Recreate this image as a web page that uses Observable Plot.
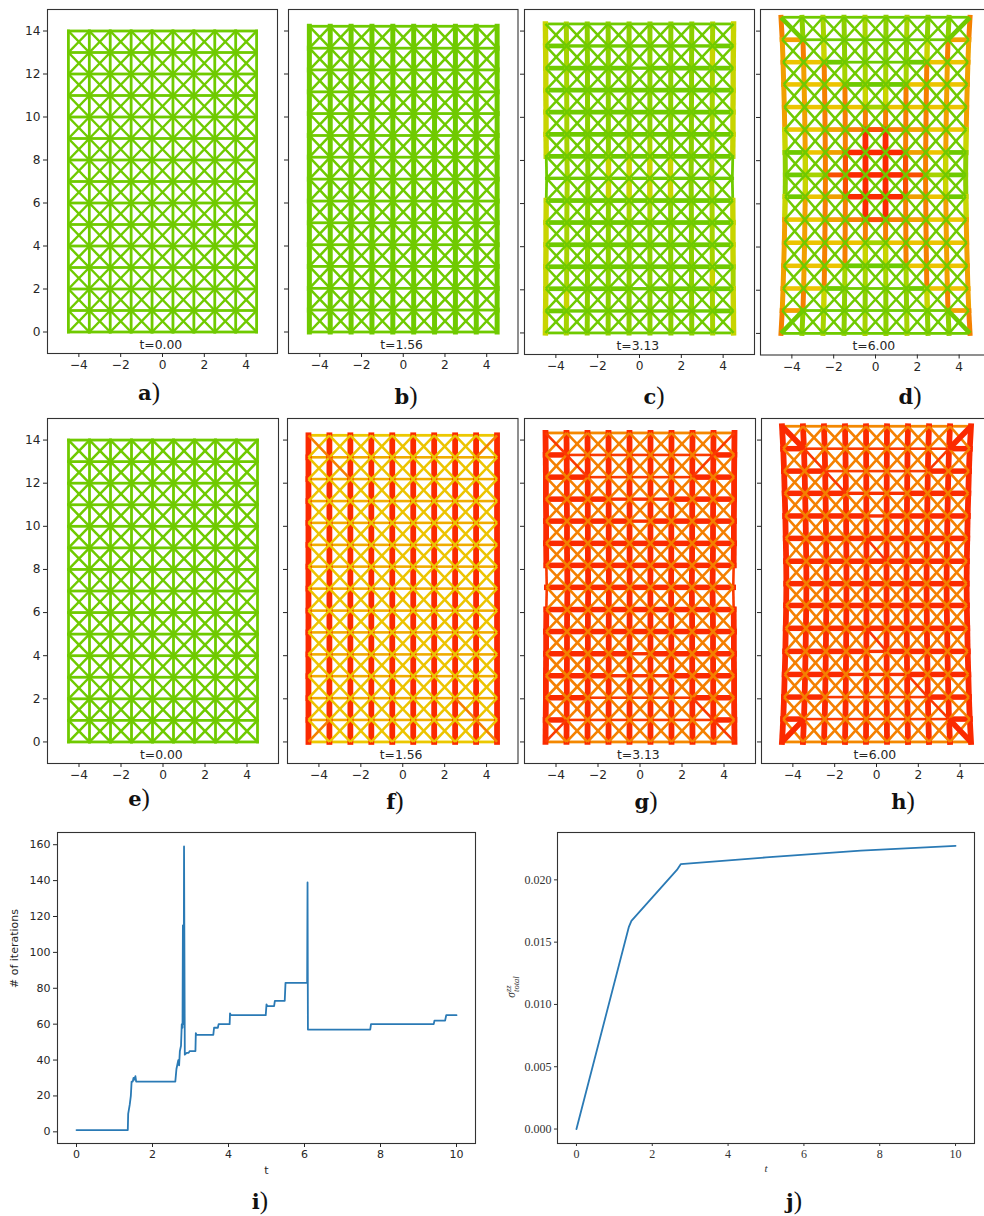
<!DOCTYPE html>
<html>
<head>
<meta charset="utf-8">
<script src="https://cdn.jsdelivr.net/npm/d3@7"></script>
<script src="https://cdn.jsdelivr.net/npm/@observablehq/plot@0.6"></script>
<style>
html,body{margin:0;padding:0;background:#fff;}
#page{position:relative;width:984px;height:1216px;overflow:hidden;background:#fff;}
#page svg{position:absolute;max-width:none;}
.cap{position:absolute;transform:translate(-50%,-50%);white-space:nowrap;color:#111;line-height:1;}
.cap b{font:bold 21px "DejaVu Serif",serif;}
.cap span{font:25px "Liberation Serif",serif;font-weight:normal;}
#sig{position:absolute;left:512px;top:987px;transform:translate(-50%,-50%) rotate(-90deg);white-space:nowrap;font:italic 11.5px "Liberation Serif",serif;color:#333;line-height:1;}
#sig .st{display:inline-block;vertical-align:middle;font-size:8.5px;line-height:7.5px;text-align:left;}
</style>
</head>
<body>
<div id="page"></div>
<script>
// ---------- truss node positions ----------
const colsX = [-4.5,-3.5,-2.5,-1.5,-0.5,0.5,1.5,2.5,3.5,4.5];
const rows0 = [0,1,2,3,4,5,6,7,8,9,10,11,12,13,14];
const rows1 = [0,1.02,2.03,3.05,4.06,5.08,6.09,7.11,8.13,9.14,10.16,11.17,12.19,13.2,14.22];
const rows2 = [0,1.02,2.05,3.07,4.09,5.12,6.14,7.17,8.19,9.21,10.24,11.26,12.28,13.31,14.33];
const rows3 = [0,1.06,2.08,3.13,4.2,5.27,6.33,7.34,8.38,9.44,10.48,11.53,12.56,13.6,14.64];
const half0 = [4.5,4.5,4.5,4.5,4.5,4.5,4.5,4.5,4.5,4.5,4.5,4.5,4.5,4.5,4.5];
const half2 = [4.5,4.49,4.48,4.48,4.47,4.47,4.46,4.44,4.46,4.47,4.47,4.48,4.48,4.49,4.5];
const half3 = [4.52,4.46,4.42,4.39,4.36,4.34,4.32,4.31,4.32,4.34,4.36,4.39,4.42,4.46,4.52];

// ---------- member levels: strings read top row first, one letter per member ----------
const hUniform = Array(15).fill("ttttttttt");
const vUniform = Array(14).fill("tttttttttt");
const vB = Array(14).fill("GGGGGGGGGG");

const hC = ["ttttttttt","GcccccccG","GGGGcGGGG","GGGGGGGGG","GGGGGGGGG","GGGGGGGGG","GGGGGGGGG","ccccccccc",
            "GGGGGGGGG","GGGGGGGGG","GGGGGGGGG","GGGGGGGGG","GGGGcGGGG","GcccccccG","ttttttttt"];
const vC = ["ylmmmmmmly","ylmmmmmmyy","ylmmmmmmly","ylmmmmmmly","ylmmmmmmly","ylmmllmmly","tlmyyyymlt",
            "tlmyyyymlt","ylmmllmmly","ylmmmmmmly","ylmmmmmmly","ylmmmmmmyl","yymmmmmmly","ylmmmmmmly"];

const hD = ["ttttttttt","ottttttto","YYGtttGYY","YYYGGGYYY","YYYYlYYYY","YYoOqOoYY","GYoRRRoYG","GlqRRRqlG",
            "GYoRRRoYG","YYoOqOoYY","YYYYlYYYY","YYYGGGYYY","YYGtttGYY","ottttttto","ttttttttt"];
const vD = ["OmlmlmlmmO","oOymmmmyOo","ooOllllOoo","ooOOyyOOoo","ooOOOOOOoo","yoOORROOoy","myOqRRqOym",
            "myOqRRqOym","yoOORROOoy","ooOOOOOOoo","ooOOyyOOoo","ooOllllOoo","oOymmmmyOo","OmlmlmlmmO"];

const hF = ["kkkkkkkkk","nnnnnnnnn","nnnnnnnnn","nnnnnnnnn","nnnnnnnnn","nnnnnnnnn","nnnnnnnnn","nnnnnnnnn",
            "nnnnnnnnn","nnnnnnnnn","nnnnnnnnn","nnnnnnnnn","nnnnnnnnn","nnnnnnnnn","kkkkkkkkk"];
const vF = Array(14).fill("RRRRRRRRRR");

const hG = ["wwwwwwwww","RxxxxxxxR","RRxxxxxRR","RRRvvvRRR","RRRRvRRRR","RRRRRRRRR","RRRRRRRRR","RRRRRRRRR",
            "RRRRRRRRR","RRRRRRRRR","RRRRvRRRR","RRRvvvRRR","RRxxxxxRR","RxxxxxxxR","wwwwwwwww"];
const vG = ["RRRRRRRRRR","RRRRRRRRRR","RRRRRRRRRR","RRRRRRRRRR","RRRRRRRRRR","RRRRRRRRRR","xRRRRRRRRx",
            "xRRRRRRRRx","RRRRRRRRRR","RRRRRRRRRR","RRRRRRRRRR","RRRRRRRRRR","RRRRRRRRRR","RRRRRRRRRR"];

const hH = ["wwwwwwwww","RxxxxxxxR","RRxxxxxRR","RRRvvvRRR","RRRRvRRRR","RRRRRRRRR","RRRRRRRRR","RRRRRRRRR",
            "RRRRRRRRR","RRRRRRRRR","RRRRvRRRR","RRRvvvRRR","RRxxxxxRR","RxxxxxxxR","wwwwwwwww"];
const vH = Array(14).fill("RRRRRRRRRR");

// diagonal exceptions: [direction, column, row from bottom, level]
const cornersThinG = [["\\",0,13,"e"],["/",8,13,"e"],["/",0,0,"e"],["\\",8,0,"e"]];
const cornersF = [["\\",0,13,"u"],["/",8,13,"u"],["/",0,0,"u"],["\\",8,0,"u"],["\\",1,12,"u"],["\\",7,1,"u"]];
const cornersG = [["\\",0,13,"x"],["/",8,13,"x"],["/",0,0,"x"],["\\",8,0,"x"],["\\",1,12,"x"],["/",7,12,"x"],["\\",7,1,"x"]];
const cornersH = [["\\",0,13,"z"],["/",8,13,"z"],["/",0,0,"z"],["\\",8,0,"z"],["\\",1,12,"x"],["\\",2,11,"x"],["/",7,12,"x"],["\\",6,2,"x"],["\\",7,1,"x"],["\\",4,8,"x"],["\\",4,4,"x"]];
const noCorners = [];

// ---------- line panels ----------
const iterT = [0,1.35,1.36,1.4,1.43,1.45,1.48,1.5,1.52,1.55,1.57,2.6,2.63,2.68,2.7,2.72,2.75,2.77,2.79,2.8,2.82,2.83,2.85,2.9,2.95,2.98,3.13,3.14,3.16,3.6,3.62,3.72,3.74,4.03,4.04,4.06,4.98,5,5.02,5.2,5.22,5.48,5.5,6.07,6.08,6.09,7.73,7.75,9.4,9.42,9.7,9.73,10];
const iterN = [1,1,10,15,20,28,28,30,29,31,28,28,35,40,37,45,48,60,58,115,60,159,43,44,44,45,45,55,54,54,58,58,60,60,66,65,65,71,70,70,73,73,83,83,139,57,57,60,60,62,62,65,65];
const stressT = [0,1.38,1.45,2.65,2.75,5,7.5,10];
const stressS = [0,0.0162,0.0167,0.0208,0.02126,0.0218,0.02235,0.02273];

const timeLabels = ["t=0.00","t=1.56","t=3.13","t=6.00"];
const xTicks = [-4,-2,0,2,4];
const yTicks = [0,2,4,6,8,10,12,14];
const iterXTicks = [0,2,4,6,8,10];
const iterYTicks = [0,20,40,60,80,100,120,140,160];
const stressYTicks = [0,0.005,0.01,0.015,0.02];

// ---------- styles ----------
const styleTable = {
  t:["#6fca00",2.8], G:["#6fca00",5], c:["#6fca00",3.4], d:["#6fca00",2.5], e:["#6fca00",4.6],
  m:["#8ccf00",5], l:["#a6d300",5], y:["#c8d400",5.4], Y:["#ecc400",4.8], o:["#f0a000",5],
  O:["#f48000",5], q:["#f85000",5.2], R:["#fb2a00",5.8], v:["#fa3000",3.6], x:["#fa3a00",2.6],
  j:["#ecc400",2.5], k:["#ecc800",2.8], n:["#f0ac00",2.6], u:["#f48000",2.6], w:["#f48800",2.8], z:["#fb2a00",5.6]
};
const horizontalThickScale = 0.95;
const blue = "#2a7ab5", ink = "#262626";

function trussLinks(rows, half, H, V, diagLevel, extras){
  const frame = [], diag = [], late = [];
  const px = (c,r)=>colsX[c]*half[r]/4.5;
  const add=(x1,y1,x2,y2,code,k=1)=>{const s=styleTable[code];frame.push({x1,y1,x2,y2,color:s[0],w:s[1]>3.5?s[1]*k:s[1]});};
  H.forEach((s,i)=>{const r=14-i;for(let c=0;c<9;c++)add(px(c,r),rows[r],px(c+1,r),rows[r],s[c],horizontalThickScale);});
  V.forEach((s,i)=>{const r=13-i;for(let c=0;c<10;c++)add(px(c,r),rows[r],px(c,r+1),rows[r+1],s[c]);});
  for(let r=0;r<14;r++)for(let c=0;c<9;c++){
    for(const dir of ["\\","/"]){
      const ex=extras.find(e=>e[0]===dir&&e[1]===c&&e[2]===r);
      const code=ex?ex[3]:diagLevel;
      const a=dir==="/"?[px(c,r),rows[r],px(c+1,r+1),rows[r+1]]:[px(c,r+1),rows[r+1],px(c+1,r),rows[r]];
      (ex?late:diag).push({x1:a[0],y1:a[1],x2:a[2],y2:a[3],color:styleTable[code][0],w:styleTable[code][1]});
    }
  }
  return {frame, diag: diag.concat(late)};
}

const page = document.getElementById("page");
function place(svg,left,top){svg.style.left=left+"px";svg.style.top=top+"px";page.appendChild(svg);}

const ml=40,mr=2,mt=2,mb=28;
function trussPanel(f,rows,half,H,V,diagLevel,extras,timeLabel,showY){
  const [fx,fy,fw,fh]=f;
  const m=trussLinks(rows,half,H,V,diagLevel,extras);
  const svg=Plot.plot({
    width:fw+ml+mr,height:fh+mt+mb,marginLeft:ml,marginRight:mr,marginTop:mt,marginBottom:mb,
    x:{domain:[-5.5,5.5]},y:{domain:[-1,15]},color:{type:"identity"},
    style:{background:"transparent",fontFamily:"DejaVu Sans",fontSize:"12.2px",color:ink},
    marks:[
      Plot.link(m.frame,{x1:"x1",y1:"y1",x2:"x2",y2:"y2",stroke:"color",strokeWidth:"w",strokeLinecap:"square"}),
      Plot.link(m.diag,{x1:"x1",y1:"y1",x2:"x2",y2:"y2",stroke:"color",strokeWidth:"w",strokeLinecap:"butt"}),
      Plot.text([timeLabel],{x:()=>-0.08,y:()=>-0.6,fontSize:12.4,fill:ink}),
      Plot.frame({stroke:"#333",strokeWidth:1.1}),
      Plot.axisX({ticks:xTicks,tickSize:4,tickPadding:3,label:null,tickFormat:d3.format("d")}),
      showY?Plot.axisY({ticks:yTicks,tickSize:4,tickPadding:3,label:null,tickFormat:d3.format("d")})
           :Plot.axisY({ticks:yTicks,tickSize:4,text:null,label:null})
    ]
  });
  place(svg,fx-ml,fy-mt);
}

trussPanel([47,9,230,344],rows0,half0,hUniform,vUniform,"d",noCorners,timeLabels[0],true);
trussPanel([288,8.5,229.5,344],rows1,half0,hUniform,vB,"d",noCorners,timeLabels[1],false);
trussPanel([523.5,8.5,230,345],rows2,half2,hC,vC,"d",noCorners,timeLabels[2],false);
trussPanel([760,8.5,230,345.5],rows3,half3,hD,vD,"d",cornersThinG,timeLabels[3],false);
trussPanel([47,418,231,345],rows0,half0,hUniform,vUniform,"d",noCorners,timeLabels[0],true);
trussPanel([286.5,418,230.5,345],rows1,half0,hF,vF,"j",cornersF,timeLabels[1],false);
trussPanel([523.5,418,231,345],rows2,half2,hG,vG,"u",cornersG,timeLabels[2],false);
trussPanel([761,418,230,345],rows3,half3,hH,vH,"u",cornersH,timeLabels[3],false);

// panel i
const iterData = iterT.map((t,k)=>({t,n:iterN[k]}));
place(Plot.plot({
  width:418+50+4,height:311+4+44,marginLeft:50,marginRight:4,marginTop:4,marginBottom:44,
  x:{domain:[-0.5,10.5]},y:{domain:[-6.5,166.8]},
  style:{background:"transparent",fontFamily:"DejaVu Sans",fontSize:"11px",color:ink},
  marks:[
    Plot.line(iterData,{x:"t",y:"n",stroke:blue,strokeWidth:1.8,curve:"linear"}),
    Plot.frame({stroke:"#333",strokeWidth:1.1}),
    Plot.axisX({ticks:iterXTicks,tickSize:4,tickPadding:3,label:null,tickFormat:d3.format("d")}),
    Plot.axisY({ticks:iterYTicks,tickSize:4,tickPadding:3,label:null,tickFormat:d3.format("d")}),
    Plot.text(["t"],{frameAnchor:"bottom",dy:30,fontSize:11,fill:ink}),
    Plot.text(["# of iterations"],{frameAnchor:"left",dx:-43,rotate:-90,fontSize:11,fill:ink})
  ]
}),57-50,832-4);

// panel j
const stressData = stressT.map((t,k)=>({t,s:stressS[k]}));
place(Plot.plot({
  width:417+50+4,height:311+4+44,marginLeft:50,marginRight:4,marginTop:4,marginBottom:44,
  x:{domain:[-0.5,10.5]},y:{domain:[-0.00116,0.0238]},
  style:{background:"transparent",fontFamily:"Liberation Serif",fontSize:"12px",color:"#333"},
  marks:[
    Plot.line(stressData,{x:"t",y:"s",stroke:blue,strokeWidth:1.8}),
    Plot.frame({stroke:"#333",strokeWidth:1.1}),
    Plot.axisX({ticks:iterXTicks,tickSize:3,tickPadding:3,label:null,tickFormat:d3.format("d")}),
    Plot.axisY({ticks:stressYTicks,tickSize:3,tickPadding:3,label:null,tickFormat:d3.format(".3f")}),
    Plot.text(["t"],{frameAnchor:"bottom",dy:28,fontSize:11,fontStyle:"italic",fill:"#333"})
  ]
}),557-50,832-4);

const sig=document.createElement("div");sig.id="sig";
sig.innerHTML='σ<span class="st">zz<br>total</span>';
page.appendChild(sig);

// captions
const captions = [["a",149,392],["b",406,396],["c",654,396],["d",910,396],["e",139,798],["f",395,801],["g",646,801],["h",903,801],["i",260,1201],["j",794,1201]];
captions.forEach(([l,x,y])=>{
  const d=document.createElement("div");d.className="cap";d.style.left=x+"px";d.style.top=y+"px";
  d.innerHTML="<b>"+l+"</b><span>)</span>";page.appendChild(d);
});
</script>
</body>
</html>
